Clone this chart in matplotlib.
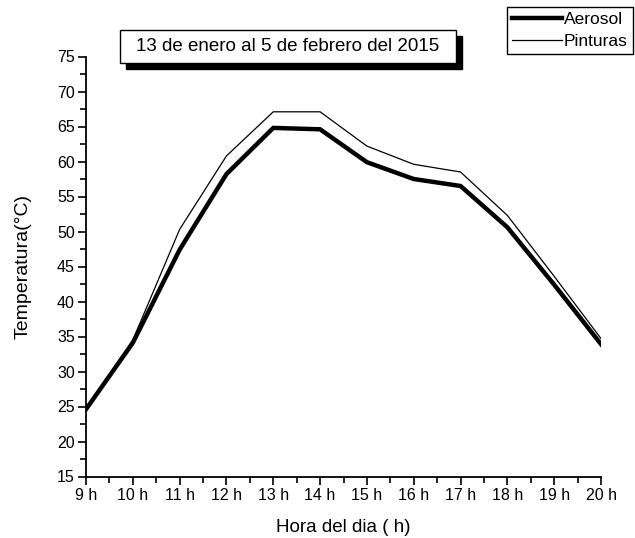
import numpy as np
import matplotlib
matplotlib.use("Agg")
import matplotlib.pyplot as plt
from matplotlib.patches import Rectangle
from matplotlib.ticker import MultipleLocator

plt.rcParams['font.family'] = ['Liberation Sans', 'DejaVu Sans']

# hourly temperatures
horas = [9, 10, 11, 12, 13, 14, 15, 16, 17, 18, 19, 20]
aerosol = [24.6, 34.1, 47.4, 58.2, 64.8, 64.6, 59.9, 57.5, 56.5, 50.6, 42.4, 33.9]
pinturas = [24.7, 34.5, 50.3, 60.8, 67.1, 67.1, 62.2, 59.6, 58.5, 52.3, 43.6, 34.7]
etiquetas_x = ["%d h" % h for h in horas]
titulo = "13 de enero al 5 de febrero del 2015"

W, H = 635, 538
fig = plt.figure(figsize=(W / 100, H / 100), dpi=100)
ax = fig.add_axes([86 / W, 1 - 476.5 / H, (601 - 86) / W, (476.5 - 56.5) / H])

l1, = ax.plot(horas, aerosol, color='black', lw=3.2, solid_joinstyle='miter')
l2, = ax.plot(horas, pinturas, color='black', lw=0.9)

ax.set_xlim(9, 20)
ax.set_ylim(15, 75)
ax.set_xticks(horas)
ax.set_xticklabels(etiquetas_x)
ax.xaxis.set_minor_locator(MultipleLocator(0.5))
ax.yaxis.set_major_locator(MultipleLocator(5))
ax.yaxis.set_minor_locator(MultipleLocator(2.5))
ax.tick_params(which='major', direction='out', length=6, width=1.2, labelsize=11.5, pad=2)
ax.tick_params(which='minor', direction='out', length=4, width=1.2)
for s in ['top', 'right']:
    ax.spines[s].set_visible(False)
for s in ['left', 'bottom']:
    ax.spines[s].set_linewidth(1.3)

ax.set_xlabel("Hora del dia ( h)", fontsize=13.5, labelpad=12)
ax.set_ylabel("Temperatura(°C)", fontsize=14, labelpad=18)

# title box with drop shadow
bx, by, bw, bh = 120, 30, 336, 33
fig.patches.append(Rectangle(((bx + 6) / W, 1 - (by + bh + 6) / H), bw / W, bh / H,
                             transform=fig.transFigure, facecolor='black', edgecolor='black'))
fig.patches.append(Rectangle((bx / W, 1 - (by + bh) / H), bw / W, bh / H,
                             transform=fig.transFigure, facecolor='white', edgecolor='black', lw=1))
fig.text((bx + bw / 2) / W, 1 - (by + bh / 2) / H, titulo, ha='center', va='center', fontsize=13.5)

fig.legend([l1, l2], ["Aerosol", "Pinturas"], loc='upper right',
           bbox_to_anchor=(633 / W, 1 - 7 / H), fontsize=12.5, frameon=True, fancybox=False,
           edgecolor='black', framealpha=1, handlelength=2.9, handletextpad=0.1,
           borderpad=0.3, labelspacing=0.35, borderaxespad=0)

fig.savefig("out.png", dpi=100)
